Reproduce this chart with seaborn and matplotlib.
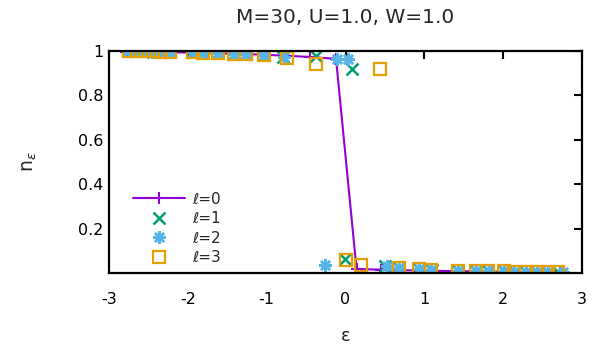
import numpy as np
import pandas as pd
import matplotlib
matplotlib.use("Agg")
import matplotlib.pyplot as plt
import seaborn as sns

# ---- data ----
e0 = [-2.78, -2.68, -2.57, -2.46, -2.35, -2.22, -1.95, -1.80, -1.62, -1.41, -1.25, -1.03, -0.77, -0.45, -0.12,
      0.14, 0.45, 0.68, 0.93, 1.10, 1.43, 1.66, 1.82, 2.01, 2.15, 2.30, 2.44, 2.58, 2.72]
n0 = [0.997, 0.996, 0.996, 0.995, 0.995, 0.994, 0.993, 0.992, 0.990, 0.988, 0.986, 0.983, 0.979, 0.973, 0.965,
      0.018, 0.015, 0.013, 0.011, 0.010, 0.008, 0.007, 0.006, 0.005, 0.005, 0.004, 0.004, 0.003, 0.003]

e1 = [-2.76, -2.65, -2.55, -2.44, -2.34, -2.23, -1.95, -1.81, -1.62, -1.42, -1.26, -1.04, -0.79, -0.38, 0.08,
      -0.01, 0.50, 0.68, 0.93, 1.10, 1.43, 1.66, 1.81, 2.01, 2.15, 2.29, 2.43, 2.57, 2.70]
n1 = [0.999, 0.998, 0.998, 0.997, 0.997, 0.996, 0.995, 0.993, 0.991, 0.988, 0.985, 0.981, 0.975, 0.978, 0.92,
      0.065, 0.030, 0.022, 0.018, 0.015, 0.011, 0.009, 0.008, 0.007, 0.006, 0.005, 0.005, 0.004, 0.004]

e2 = [-2.76, -2.66, -2.55, -2.45, -2.35, -2.23, -1.94, -1.80, -1.62, -1.41, -1.26, -1.03, -0.78, -0.11, 0.03,
      -0.26, 0.53, 0.68, 0.93, 1.09, 1.43, 1.66, 1.82, 2.01, 2.14, 2.29, 2.43, 2.57, 2.76]
n2 = [0.999, 0.998, 0.998, 0.997, 0.997, 0.996, 0.995, 0.993, 0.991, 0.988, 0.985, 0.981, 0.972, 0.965, 0.962,
      0.038, 0.030, 0.022, 0.018, 0.015, 0.011, 0.009, 0.008, 0.007, 0.006, 0.005, 0.005, 0.004, 0.003]

e3 = [-2.75, -2.65, -2.54, -2.44, -2.34, -2.23, -1.94, -1.81, -1.62, -1.41, -1.26, -1.03, -0.74, -0.37, 0.44,
      0.01, 0.20, 0.68, 0.93, 1.09, 1.43, 1.66, 1.81, 2.01, 2.14, 2.29, 2.43, 2.57, 2.70]
n3 = [0.999, 0.999, 0.998, 0.998, 0.997, 0.997, 0.994, 0.993, 0.991, 0.987, 0.985, 0.980, 0.967, 0.943, 0.92,
      0.060, 0.036, 0.022, 0.018, 0.015, 0.011, 0.009, 0.008, 0.007, 0.006, 0.005, 0.005, 0.004, 0.004]

labels = ["\u2113=0", "\u2113=1", "\u2113=2", "\u2113=3"]
xticks = [-3, -2, -1, 0, 1, 2, 3]
xticklabels = ["-3", "-2", "-1", "0", "1", "2", "3"]
yticks = [0.2, 0.4, 0.6, 0.8, 1.0]
yticklabels = ["0.2", "0.4", "0.6", "0.8", "1"]
title = "M=30, U=1.0, W=1.0"

# ---- style ----
sns.set_style("white")
plt.rcParams["font.family"] = ["DejaVu Sans"]
plt.rcParams["axes.unicode_minus"] = False

c0, c1, c2, c3 = "#9400d3", "#009e73", "#56b4e9", "#e69f00"

fig = plt.figure(figsize=(6.12, 3.49), dpi=100)
ax = fig.add_axes([109/612, 1-273/349, (582-109)/612, (273-51)/349])

sns.lineplot(x=e0, y=n0, ax=ax, sort=False, estimator=None, color=c0, lw=1.5,
             marker="+", ms=9, mew=1.5, mec=c0, label=labels[0])
sns.lineplot(x=e1, y=n1, ax=ax, sort=False, estimator=None, color=c1, linestyle="",
             marker="x", ms=8, mew=1.8, mec=c1, label=labels[1])
sns.lineplot(x=e2, y=n2, ax=ax, sort=False, estimator=None, color=c2, linestyle="",
             marker=(8, 2, 0), ms=9, mew=1.8, mec=c2, label=labels[2])
sns.lineplot(x=e3, y=n3, ax=ax, sort=False, estimator=None, color=c3, linestyle="",
             marker="s", ms=8, mew=1.6, mec=c3, mfc="none", label=labels[3])

ax.set_xlim(-3, 3)
ax.set_ylim(0, 1)
ax.set_xticks(xticks)
ax.set_xticklabels(xticklabels)
ax.set_yticks(yticks)
ax.set_yticklabels(yticklabels)
ax.tick_params(direction="in", length=6, width=1.5, top=True, right=True,
               labelsize=11.5, colors="black")
ax.tick_params(axis="x", pad=14)
ax.tick_params(axis="y", pad=4)
for s in ax.spines.values():
    s.set_linewidth(1.6)
    s.set_color("black")
    s.set_visible(True)

ax.set_title(title, fontsize=14.5, pad=20)
ax.set_xlabel("\u03b5", fontsize=13, labelpad=14)
ax.set_ylabel("n$_\u03b5$", fontsize=13.5, labelpad=28)

leg = ax.legend(loc="lower left", bbox_to_anchor=(0.035, 0.0), frameon=False, fontsize=11,
                handlelength=3.4, handletextpad=0.45, labelspacing=0.3, borderaxespad=0.1)

fig.savefig("out.png", dpi=100)
